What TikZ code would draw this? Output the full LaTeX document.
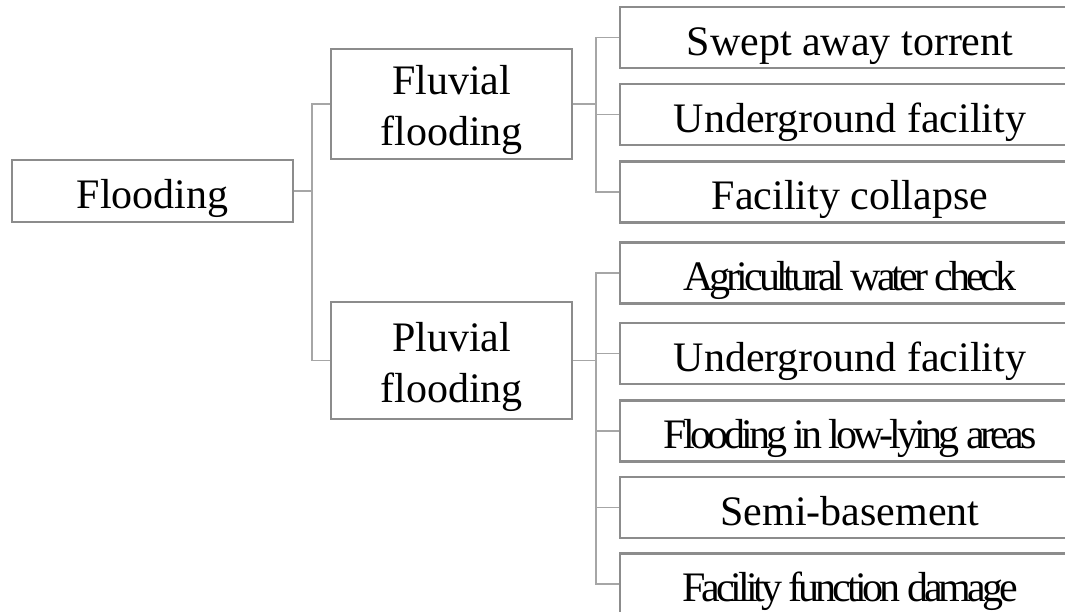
\documentclass[tikz,border=0pt]{standalone}
\usepackage{fontspec}
\setmainfont{Liberation Serif}
\newfontfamily\tightfont[LetterSpace=-9.6]{Liberation Serif}
\definecolor{boxgray}{HTML}{8C8C8C}
\definecolor{linegray}{HTML}{A6A6A6}
\newcommand{\twolines}[3]{\raisebox{#3}[\height][\depth]{\begin{tabular}{@{}c@{}}#1\\#2\end{tabular}}}
\begin{document}
\begin{tikzpicture}[x=1pt,y=-1pt,
  box/.style={draw=boxgray, line width=2.3pt, fill=white, inner sep=0pt,
    font=\fontsize{42}{51}\selectfont, align=center},
  onebox/.style={box, text height=35pt, text depth=0pt},
  leaf/.style={onebox, minimum width=460pt, minimum height=61pt},
  conn/.style={draw=linegray, line width=1.3pt}]
\useasboundingbox (0,0) rectangle (1065,611);
\clip (0,0) rectangle (1065,611);
% nodes
\node[onebox, minimum width=281pt, minimum height=62pt] (root) at (152.5,191) {Flooding};
\node[box, minimum width=241pt, minimum height=110pt] (fluv) at (451.5,104) {\twolines{Fluvial}{flooding}{-5.7pt}};
\node[box, minimum width=241pt, minimum height=117pt] (pluv) at (451.5,360.5) {\twolines{Pluvial}{flooding}{-6.5pt}};
\node[leaf] (f1) at (850,37.5) {Swept away torrent};
\node[leaf] (f2) at (850,114.5) {Underground facility};
\node[leaf] (f3) at (850,192) {Facility collapse};
\node[leaf] (p1) at (850,273) {\tightfont Agricultural water check};
\node[leaf] (p2) at (850,353.5) {Underground facility};
\node[leaf] (p3) at (850,431) {\tightfont Flooding in low-lying areas};
\node[leaf] (p4) at (850,507.5) {Semi-basement};
\node[leaf] (p5) at (850,584) {\tightfont Facility function damage};
% junction coordinates
\coordinate (b0) at (312,0);
\coordinate (b1) at (596,0);
% connectors
\draw[conn] (root.east) -- (root.east -| b0);
\draw[conn] (fluv.west) -- (fluv.west -| b0) -- (pluv.west -| b0) -- (pluv.west);
\draw[conn] (fluv.east) -- (fluv.east -| b1);
\draw[conn] (f1.west) -- (f1.west -| b1) -- (f3.west -| b1) -- (f3.west);
\draw[conn] (f2.west) -- (f2.west -| b1);
\draw[conn] (pluv.east) -- (pluv.east -| b1);
\draw[conn] (p1.west) -- (p1.west -| b1) -- (p5.west -| b1) -- (p5.west);
\draw[conn] (p2.west) -- (p2.west -| b1);
\draw[conn] (p3.west) -- (p3.west -| b1);
\draw[conn] (p4.west) -- (p4.west -| b1);
\end{tikzpicture}
\end{document}
